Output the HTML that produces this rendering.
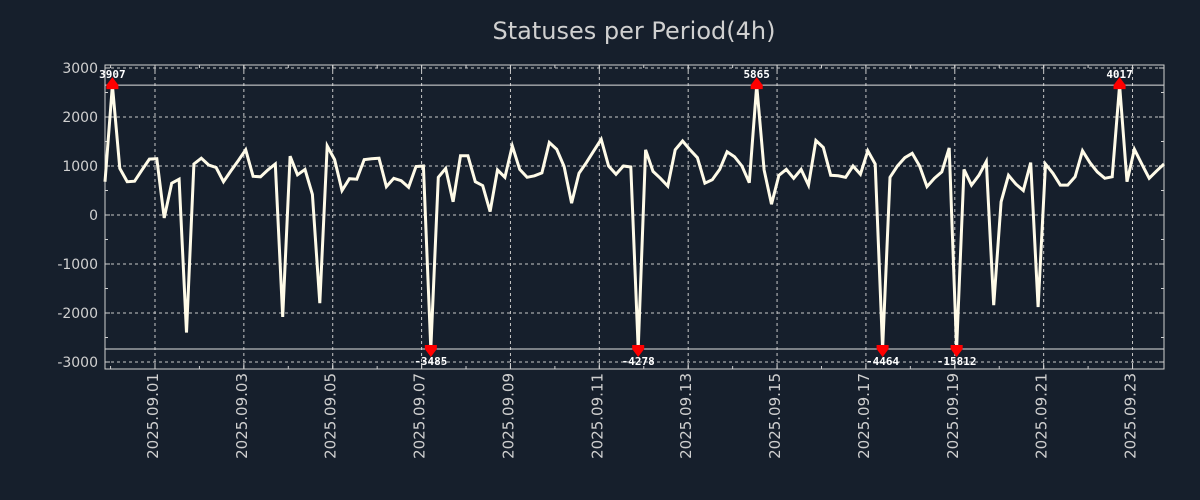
<!DOCTYPE html>
<html><head><meta charset="utf-8"><style>
html,body{margin:0;padding:0;background:#161f2c;}
svg{display:block;font-family:"DejaVu Sans","Liberation Sans",sans-serif;}
</style></head><body>
<svg id="chart" width="1200" height="500" xmlns="http://www.w3.org/2000/svg">
<rect x="0" y="0" width="1200" height="500" fill="#161f2c"/>
<text x="634" y="39" text-anchor="middle" font-size="24" fill="#d0d0d0">Statuses per Period(4h)</text>
<g id="grid"></g><g id="axes"></g><g id="series"></g><g id="marks"></g>
</svg>
<script>
const values = [680,3907,950,680,690,920,1140,1150,-60,650,730,-2400,1040,1160,1020,970,680,900,1110,1330,790,780,920,1040,-2080,1200,820,930,420,-1800,1410,1130,500,740,730,1130,1150,1160,580,750,700,565,990,1000,-3485,770,950,270,1210,1210,680,600,70,920,770,1410,930,770,800,860,1480,1340,990,240,850,1070,1310,1545,1000,830,1000,980,-4278,1330,890,750,590,1330,1510,1330,1170,650,720,930,1290,1190,1000,660,5865,920,220,810,930,750,930,610,1520,1380,810,800,770,1000,830,1310,1040,-4464,770,1000,1170,1260,1000,580,750,880,1370,-15812,930,610,810,1090,-1840,270,810,630,500,1070,-1880,1040,850,610,610,780,1310,1070,880,750,780,4017,680,1340,1040,750,900,1040];
const startTime = "2025-08-30T21:00:00Z";
const periodHours = 4;
const yTicks = [3000,2000,1000,0,-1000,-2000,-3000];
const xTickLabels = ["2025.09.01","2025.09.03","2025.09.05","2025.09.07","2025.09.09","2025.09.11","2025.09.13","2025.09.15","2025.09.17","2025.09.19","2025.09.21","2025.09.23"];
const clipHigh = 2650, clipLow = -2735;

const L=105,R=1164,T=65,B=369;
const NS='http://www.w3.org/2000/svg';
const t0=Date.parse(startTime);
const step=(R-L)/(values.length-1);
function xIdx(k){return L+k*step;}
function xTime(ms){return L+(ms-t0)/(periodHours*3600e3)*step;}
function y(v){return 215-v*0.049;}
function mk(tag,attrs,parent,text){const e=document.createElementNS(NS,tag);for(const k in attrs)e.setAttribute(k,attrs[k]);if(text!==undefined)e.textContent=text;parent.appendChild(e);return e;}
const grid=document.getElementById('grid'),axes=document.getElementById('axes'),series=document.getElementById('series'),marks=document.getElementById('marks');

yTicks.forEach(v=>{
  const gl=mk('line',{x1:L,x2:R,y1:y(v),y2:y(v),stroke:'#c8c8c8','stroke-width':1,'stroke-dasharray':'3,3'},grid);
  
  
  const tl=mk('text',{x:L-7,y:y(v)+5,'text-anchor':'end','font-size':14,fill:'#d0d0d0'},axes,String(v));
  
  
  mk('line',{x1:L,x2:L+5,y1:y(v),y2:y(v),stroke:'#d0d0d0'},axes);
  mk('line',{x1:R,x2:R-5,y1:y(v),y2:y(v),stroke:'#d0d0d0'},axes);
});
for(let v=-3000;v<=3000;v+=500){mk('line',{x1:L,x2:L+3,y1:y(v),y2:y(v),stroke:'#d0d0d0'},axes);mk('line',{x1:R,x2:R-3,y1:y(v),y2:y(v),stroke:'#d0d0d0'},axes);}
const oneDay=86400e3;
for(let d=Date.parse("2025-08-31T00:00:00Z");xTime(d)<=R;d+=oneDay){const x=xTime(d);if(x<L)continue;mk('line',{x1:x,x2:x,y1:T,y2:T+3,stroke:'#d0d0d0'},axes);mk('line',{x1:x,x2:x,y1:B,y2:B-3,stroke:'#d0d0d0'},axes);}
xTickLabels.forEach(lbl=>{
  const x=xTime(Date.parse(lbl.replace(/\./g,'-')+"T00:00:00Z"));
  const gl=mk('line',{x1:x,x2:x,y1:T,y2:B,stroke:'#c8c8c8','stroke-width':1,'stroke-dasharray':'3,3'},grid);
  
  
  mk('line',{x1:x,x2:x,y1:B,y2:B-6,stroke:'#d0d0d0'},axes);
  mk('line',{x1:x,x2:x,y1:T,y2:T+6,stroke:'#d0d0d0'},axes);
  const tl=mk('text',{transform:`translate(${x+3},${B+4}) rotate(-90)`,'text-anchor':'end','font-size':15,fill:'#d0d0d0'},axes,lbl);
  
  
});
const fr=mk('rect',{x:L,y:T,width:R-L,height:B-T,fill:'none',stroke:'#d0d0d0','stroke-width':1},axes);


[clipHigh,clipLow].forEach(v=>{
  const cl=mk('line',{x1:L,x2:R,y1:y(v),y2:y(v),stroke:'#e0e0e0','stroke-width':1},grid);
  
  
});
const pts=values.map((v,k)=>xIdx(k).toFixed(1)+','+y(Math.max(clipLow,Math.min(clipHigh,v))).toFixed(1)).join(' ');
const line=mk('polyline',{points:pts,fill:'none',stroke:'#fffbe8','stroke-width':3,'stroke-linejoin':'miter'},series);


values.forEach((v,k)=>{
  if(v<=clipHigh&&v>=clipLow)return;
  const x=xIdx(k),hi=v>clipHigh,yy=y(hi?clipHigh:clipLow);
  const tri=mk('polygon',{points:hi?`${x-6},${yy+4} ${x+6},${yy+4} ${x+6},${yy} ${x},${yy-8} ${x-6},${yy}`:`${x-6},${yy-4} ${x+6},${yy-4} ${x+6},${yy} ${x},${yy+8} ${x-6},${yy}`,fill:'#ff0000'},marks);
  
  
  const lb=mk('text',{x:x,y:hi?yy-7:yy+16,'text-anchor':'middle','font-size':11,'font-weight':'bold','font-family':'"DejaVu Sans Mono","Liberation Mono",monospace',fill:'#ffffff'},marks,String(v));
  
  
});
</script>
</body></html>
